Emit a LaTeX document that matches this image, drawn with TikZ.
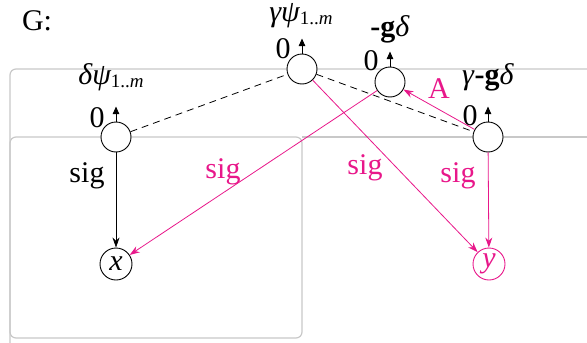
\documentclass[tikz,border=0pt]{standalone}
\usepackage{fontspec}
\setmainfont{Liberation Serif}
\usetikzlibrary{arrows.meta}
\definecolor{mag}{HTML}{E8178A}
\definecolor{platecol}{HTML}{C8C8C8}
\newcommand{\mysubscr}[1]{\raisebox{-0.12em}{\fontsize{19}{19}\selectfont #1}}
\begin{document}
\begin{tikzpicture}[x=1pt,y=-1pt, font=\fontsize{30}{36}\selectfont,
  rv/.style={circle,draw,fill=white,line width=0.9pt,minimum size=30pt,inner sep=0pt},
  txt/.style={inner sep=0pt, anchor=base},
  arr/.style={-{Stealth[length=10pt,width=7pt]}, line width=0.8pt},
  pinarr/.style={-{Triangle[length=7.5pt,width=6.5pt]}, line width=0.9pt},
  dashedge/.style={dash pattern=on 7pt off 5pt, line width=0.8pt},
  plate/.style={draw=platecol, line width=1.2pt, rounded corners=6pt}]
\useasboundingbox (0,0) rectangle (587,343);
\begin{scope}
  \clip (0,0) rectangle (587,343);
  \draw[plate] (10,69) rectangle (620,390);
  \draw[plate] (10,137) rectangle (302,338);
  \draw[plate] (302,137) -- (620,137);
\end{scope}
% nodes
\node[rv] (dpsi) at (116,137) {};
\node[rv] (gpsi) at (302,69) {};
\node[rv] (gd) at (390,82) {};
\node[rv] (ggd) at (488,137) {};
\node[rv, minimum size=32pt] (x) at (116,264) {\itshape x};
\node[rv, draw=mag, text=mag, minimum size=32pt] (y) at (489,264) {\itshape y};
% node labels
\node[txt] (Gl) at (37,30) {G:};
\node[txt] (lgpsi) at (301,21) {{\itshape γψ}\mysubscr{1..\textit{m}}};
\node[txt] (ldpsi) at (111,84) {{\itshape δψ}\mysubscr{1..\textit{m}}};
\node[txt] (lgd) at (390,36) {\textbf{-g}\textit{δ}};
\node[txt] (lggd) at (488,84) {\textit{γ}\textbf{-g}\textit{δ}};
% zeros and pins
\node[txt] (z1) at (97,127) {0};
\node[txt] (z2) at (283,58) {0};
\node[txt] (z3) at (371,70) {0};
\node[txt] (z4) at (470,125) {0};
\draw[pinarr] (dpsi.north) -- ++(0,-15);
\draw[pinarr] (gpsi.north) -- ++(0,-15);
\draw[pinarr] (gd.north) -- ++(0,-15);
\draw[pinarr] (ggd.north) -- ++(0,-15);
% edges
\draw[dashedge] (dpsi) -- (gpsi);
\draw[dashedge] (gpsi) -- (ggd);
\draw[arr] (dpsi) -- (x);
\draw[arr, mag] (gd) -- (x);
\draw[arr, mag] (gpsi) -- (y);
\draw[arr, mag] (ggd) -- (y);
\draw[arr, mag] (ggd) -- (gd);
% edge labels
\node[txt] (s1) at (87,182) {sig};
\node[txt, text=mag] (s2) at (223,178) {sig};
\node[txt, text=mag] (s3) at (365,174) {sig};
\node[txt, text=mag] (s4) at (458,182) {sig};
\node[txt, text=mag] (lA) at (439,98) {A};
\end{tikzpicture}
\end{document}
